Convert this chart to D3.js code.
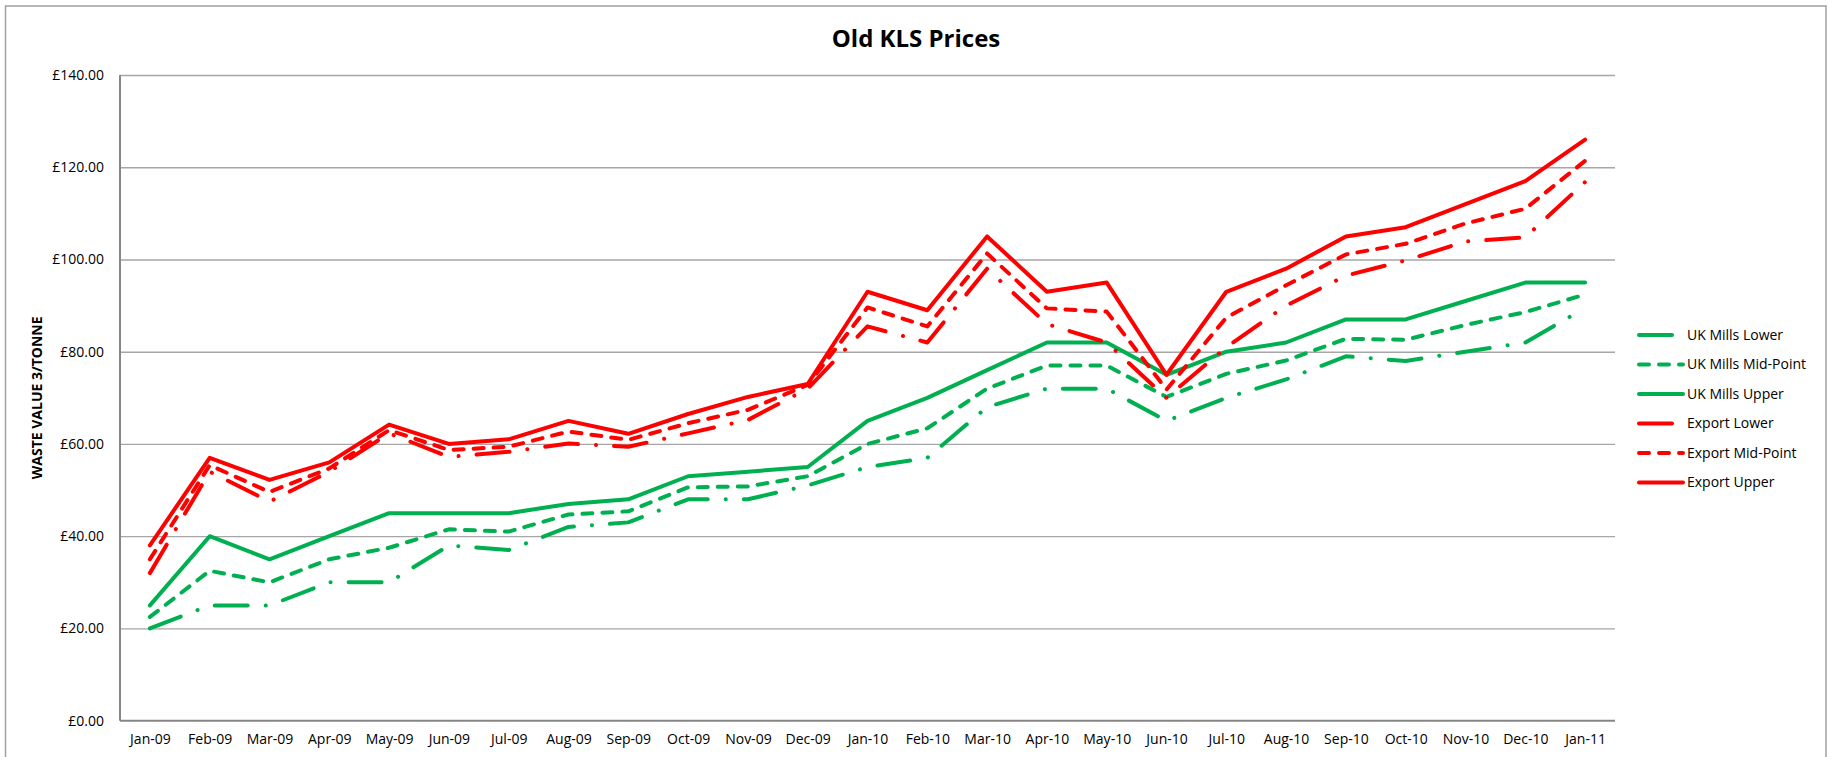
<!DOCTYPE html>
<html>
<head>
<meta charset="utf-8">
<script src="https://cdn.jsdelivr.net/npm/d3@7"></script>
<style>
  body { margin: 0; background: #fff; }
  svg { font-family: "Open Sans", sans-serif; }
  .axis path { stroke: #868686; stroke-width: 2; }
  .axis text { font-size: 14px; fill: #000; font-family: "Open Sans", sans-serif; }
  .grid line { stroke: #a6a6a6; stroke-width: 1.3; }
  .grid path { display: none; }
</style>
</head>
<body>
<div id="chart"></div>
<script>
var months = ['Jan-09','Feb-09','Mar-09','Apr-09','May-09','Jun-09','Jul-09','Aug-09','Sep-09','Oct-09','Nov-09','Dec-09',
              'Jan-10','Feb-10','Mar-10','Apr-10','May-10','Jun-10','Jul-10','Aug-10','Sep-10','Oct-10','Nov-10','Dec-10','Jan-11'];

var ukLower  = [20, 25, 25, 30, 30, 38, 37, 42, 43, 48, 48, 51, 55, 57, 68, 72, 72, 65, 70, 74, 79, 78, 80, 82, 89.5];
var ukMid    = [22.5, 32.5, 30, 35, 37.5, 41.5, 41, 44.7, 45.4, 50.6, 50.8, 53, 60, 63.4, 72, 77, 77, 70.2, 75.2, 78.1, 82.8, 82.6, 85.8, 88.6, 92.4];
var ukUpper  = [25, 40, 35, 40, 45, 45, 45, 47, 48, 53, 54, 55, 65, 70, 76, 82, 82, 75, 80, 82, 87, 87, 91, 95, 95];
var exLower  = [32, 54, 47.5, 54, 62.3, 57.2, 58.3, 60.1, 59.4, 62.3, 65.2, 72, 85.5, 82, 98, 86, 82, 70, 81, 90, 96.5, 99.8, 103.9, 104.8, 116.8];
var exMid    = [35, 55.4, 49.6, 54.7, 63, 58.7, 59.4, 62.7, 60.9, 64.5, 67.4, 72.8, 89.6, 85.5, 101.3, 89.4, 88.7, 71.8, 87.4, 94.4, 101.1, 103.4, 107.8, 111, 121.4];
var exUpper  = [38, 57, 52.2, 56, 64.2, 60, 61, 65, 62.2, 66.5, 70.2, 73, 93, 89, 105, 93, 95, 75, 93, 98, 105, 107, 112, 117, 126];

var yTicks = [0, 20, 40, 60, 80, 100, 120, 140];

var series = [
  {name: 'UK Mills Lower',     values: ukLower, color: '#00b050', dash: '33,18,0.1,18'},
  {name: 'UK Mills Mid-Point', values: ukMid,   color: '#00b050', dash: '10,10'},
  {name: 'UK Mills Upper',     values: ukUpper, color: '#00b050', dash: null},
  {name: 'Export Lower',       values: exLower, color: '#ff0000', dash: '33,18,0.1,18'},
  {name: 'Export Mid-Point',   values: exMid,   color: '#ff0000', dash: '10,10'},
  {name: 'Export Upper',       values: exUpper, color: '#ff0000', dash: null}
];

var width = 1829,
    height = 757,
    plot = {left: 120, right: 1615, top: 75, bottom: 720.7};

var svg = d3.select('#chart').append('svg')
    .attr('width', width)
    .attr('height', height);

// outer chart border
svg.append('rect')
    .attr('x', 5.5).attr('y', 6)
    .attr('width', 1820.5).attr('height', 800)
    .attr('fill', 'none')
    .attr('stroke', '#a0a0a0')
    .attr('stroke-width', 1.5);

var xScale = d3.scalePoint()
      .domain(months)
      .range([plot.left, plot.right])
      .padding(0.5),
    yScale = d3.scaleLinear()
      .domain([0, 140])
      .range([plot.bottom, plot.top]);

// gridlines
svg.append('g')
    .attr('class', 'grid')
    .attr('transform', 'translate(' + plot.left + ',0)')
    .call(d3.axisLeft(yScale).tickValues(yTicks.slice(1)).tickSize(-(plot.right - plot.left)).tickFormat(''));

svg.append('g')
    .attr('class', 'axis axis-y')
    .attr('transform', 'translate(' + plot.left + ',0)')
    .call(d3.axisLeft(yScale).tickValues(yTicks).tickSize(0).tickPadding(16)
      .tickFormat(function(d){ return '£' + d.toFixed(2); }))
    .call(function(g){ g.select('.domain').attr('d', 'M0,' + plot.top + 'V' + plot.bottom); });

svg.append('g')
    .attr('class', 'axis axis-x')
    .attr('transform', 'translate(0,' + plot.bottom + ')')
    .call(d3.axisBottom(xScale).tickSize(0).tickPadding(13))
    .call(function(g){ g.select('.domain').attr('d', 'M' + plot.left + ',0H' + plot.right); });

var line = d3.line()
    .x(function(d, i){ return xScale(months[i]); })
    .y(function(d){ return yScale(d); });

svg.append('g')
  .selectAll('path')
    .data(series).enter()
    .append('path')
      .attr('d', function(d){ return line(d.values); })
      .attr('fill', 'none')
      .attr('stroke', function(d){ return d.color; })
      .attr('stroke-width', 4)
      .attr('stroke-linejoin', 'round')
      .attr('stroke-linecap', 'round')
      .attr('stroke-dasharray', function(d){ return d.dash; });

// title
svg.append('text')
    .attr('x', 916)
    .attr('y', 47)
    .attr('text-anchor', 'middle')
    .style('font-size', '24px')
    .style('font-weight', 'bold')
    .text('Old KLS Prices');

// y axis title
svg.append('text')
    .attr('transform', 'translate(42,' + ((plot.top + plot.bottom) / 2) + ') rotate(-90)')
    .attr('text-anchor', 'middle')
    .style('font-size', '14px')
    .style('font-weight', 'bold')
    .text('WASTE VALUE 3/TONNE');

// legend
var legend = svg.append('g')
  .selectAll('g')
    .data(series).enter()
    .append('g')
      .attr('transform', function(d, i){ return 'translate(1639,' + (335 + i * 29.5) + ')'; });

legend.append('line')
    .attr('x1', 0).attr('x2', 44)
    .attr('stroke', function(d){ return d.color; })
    .attr('stroke-width', 4)
    .attr('stroke-linecap', 'round')
    .attr('stroke-dasharray', function(d){ return d.dash; });

legend.append('text')
    .attr('x', 48)
    .attr('dy', '0.35em')
    .style('font-size', '14px')
    .text(function(d){ return d.name; });
</script>
</body>
</html>
